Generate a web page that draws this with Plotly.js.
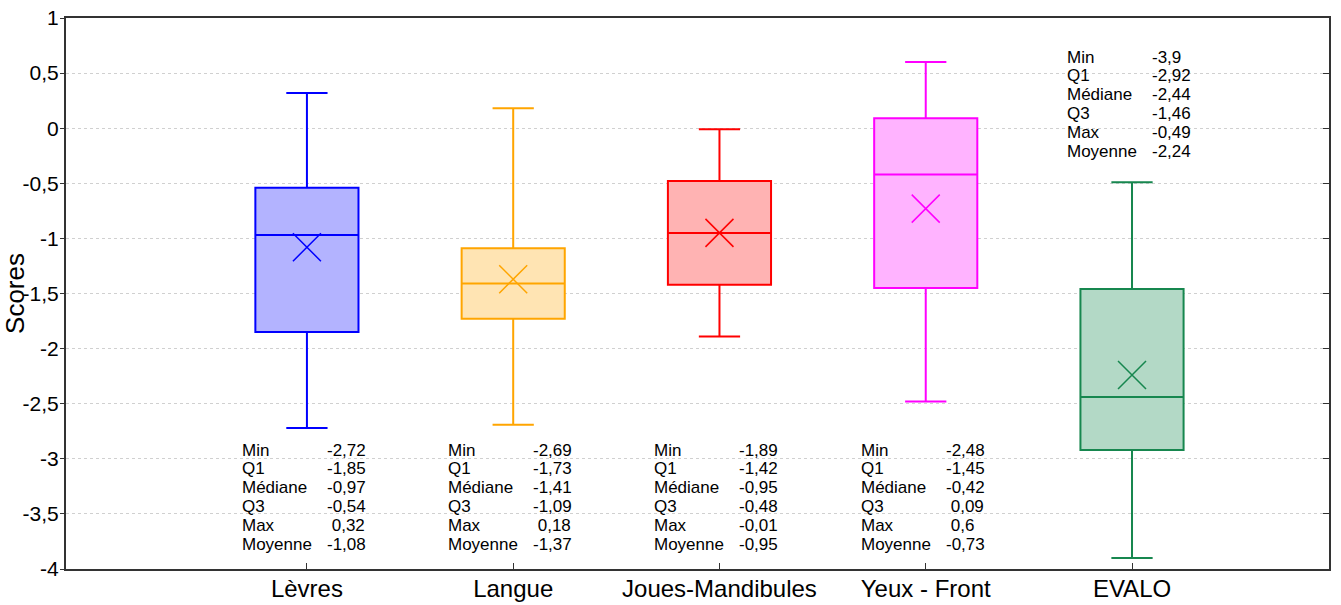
<!DOCTYPE html>
<html>
<head>
<meta charset="utf-8">
<script src="https://cdn.plot.ly/plotly-3.0.1.min.js"></script>
<style>html,body{margin:0;padding:0;background:#fff;}#chart{width:1341px;height:605px;}</style>
</head>
<body>
<div id="chart"></div>
<script>
// ---- data ----
const categories = ['Lèvres', 'Langue', 'Joues-Mandibules', 'Yeux - Front', 'EVALO'];
const minVals    = [-2.72, -2.69, -1.89, -2.48, -3.9];
const q1Vals     = [-1.85, -1.73, -1.42, -1.45, -2.92];
const medianVals = [-0.97, -1.41, -0.95, -0.42, -2.44];
const q3Vals     = [-0.54, -1.09, -0.48, 0.09, -1.46];
const maxVals    = [0.32, 0.18, -0.01, 0.6, -0.49];
const meanVals   = [-1.08, -1.37, -0.95, -0.73, -2.24];
const statLabels = ['Min', 'Q1', 'Médiane', 'Q3', 'Max', 'Moyenne'];
const yTickVals  = [1, 0.5, 0, -0.5, -1, -1.5, -2, -2.5, -3, -3.5, -4];
const yTickText  = ['1', '0,5', '0', '-0,5', '-1', '-1,5', '-2', '-2,5', '-3', '-3,5', '-4'];

// ---- styles ----
const lineColors = ['#0000FF', '#FFA500', '#FF0000', '#FF00FF', '#17874F'];
const fillColors = ['#B3B3FF', '#FFE4B3', '#FFB3B3', '#FFB3FF', '#B3D9C6'];
const textTopPx  = [450, 450, 450, 450, 57];   // pixel centre of first stat line
const lineStepPx = 18.9;
const plotTop = 18, plotH = 551;
const labelShift = -67, valueShift = 18;

const traces = [];
categories.forEach((c, i) => {
  traces.push({
    type: 'box',
    x: [c],
    q1: [q1Vals[i]], median: [medianVals[i]], q3: [q3Vals[i]],
    lowerfence: [minVals[i]], upperfence: [maxVals[i]],
    width: 0.5, whiskerwidth: 0.4,
    boxpoints: false,
    line: {color: lineColors[i], width: 2},
    fillcolor: fillColors[i],
    showlegend: false, hoverinfo: 'skip'
  });
});
traces.push({
  type: 'scatter', mode: 'markers',
  x: categories, y: meanVals,
  marker: {symbol: 'x-thin-open', size: 28, color: lineColors, line: {color: lineColors, width: 1.5}},
  showlegend: false, hoverinfo: 'skip'
});
traces.push({type: 'scatter', x: [], y: [], yaxis: 'y2', showlegend: false});

const fmt = v => (v < 0 ? '' : '\u00A0') + String(v).replace('.', ',');
const annotations = [];
categories.forEach((c, i) => {
  const vals = [minVals[i], q1Vals[i], medianVals[i], q3Vals[i], maxVals[i], meanVals[i]];
  statLabels.forEach((lab, j) => {
    const py = textTopPx[i] + j * lineStepPx;
    const yp = 1 - (py - plotTop) / plotH;
    const base = {xref: 'x', yref: 'paper', x: i, y: yp, yanchor: 'middle', xanchor: 'left',
      showarrow: false, font: {family: 'Liberation Sans, Arial, sans-serif', size: 17, color: '#000'}};
    annotations.push(Object.assign({}, base, {text: lab, xshift: labelShift}));
    annotations.push(Object.assign({}, base, {text: fmt(vals[j]), xshift: valueShift}));
  });
});

const layout = {
  width: 1341, height: 605,
  margin: {l: 66, r: 12, t: 18, b: 36},
  paper_bgcolor: '#fff', plot_bgcolor: '#fff',
  font: {family: 'Liberation Sans, Arial, sans-serif', color: '#000'},
  hovermode: false,
  xaxis: {
    type: 'category', range: [-1.168, 4.955],
    showline: true, linecolor: '#333', linewidth: 2, mirror: true,
    ticks: 'inside', ticklen: 6, tickcolor: '#333',
    ticklabelstandoff: -3,
    showgrid: false, zeroline: false,
    tickfont: {size: 24, color: '#000'}
  },
  yaxis: {
    range: [-4, 1], tickvals: yTickVals, ticktext: yTickText,
    showline: true, linecolor: '#333', linewidth: 2, mirror: true,
    ticks: 'outside', ticklen: 4, tickcolor: '#333',
    ticklabelstandoff: -3,
    showgrid: true, gridcolor: '#d0d0d0', griddash: '3px,3px', gridwidth: 1,
    zeroline: false,
    tickfont: {size: 21, color: '#000'},
    title: {text: 'Scores', font: {size: 26, color: '#000'}}
  },
  yaxis2: {
    overlaying: 'y', side: 'right', range: [-4, 1], tickvals: yTickVals,
    showticklabels: false, ticks: 'inside', ticklen: 6, tickcolor: '#333',
    showgrid: false, zeroline: false, showline: false
  },
  annotations: annotations
};

Plotly.newPlot('chart', traces, layout, {staticPlot: true, displayModeBar: false});
</script>
</body>
</html>
